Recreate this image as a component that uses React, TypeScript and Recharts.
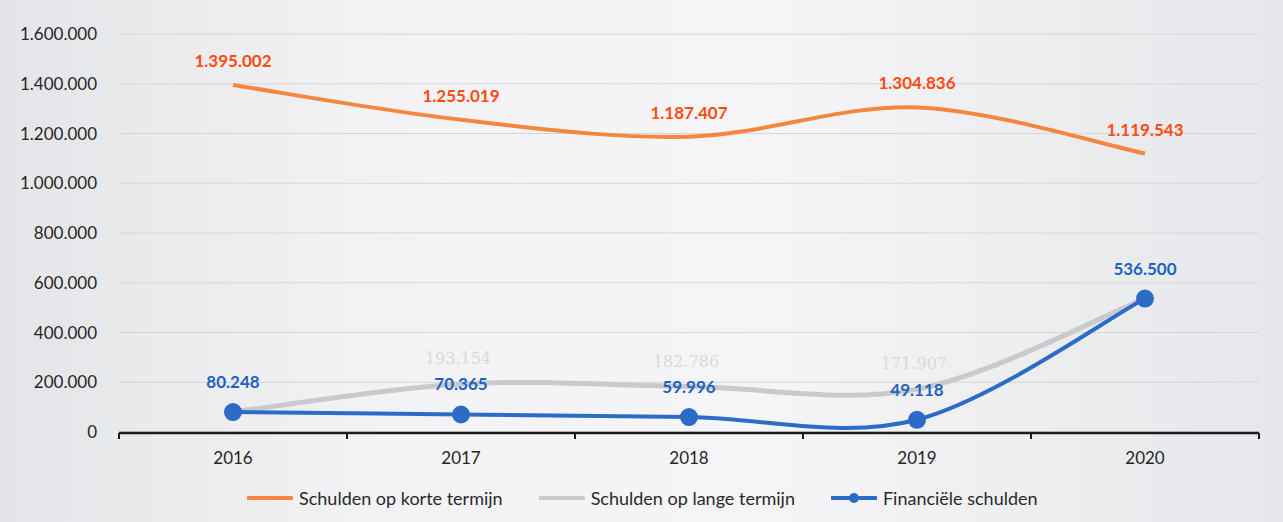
import { LineChart, Line, XAxis, YAxis, CartesianGrid, LabelList } from "recharts";

const years = ["2016", "2017", "2018", "2019", "2020"];
const korteTermijn = [1395002, 1255019, 1187407, 1304836, 1119543];
const langeTermijn = [80248, 193154, 182786, 171907, 536500];
const financieel = [80248, 70365, 59996, 49118, 536500];
const yTicks = [0, 200000, 400000, 600000, 800000, 1000000, 1200000, 1400000, 1600000];
// frame axis runs over the index range [0, n-1]; tick marks sit between the year bands
const n = years.length;
const frameTicks = Array.from({ length: n + 1 }, (_, k) => (k * (n - 1)) / n);

const data = years.map((year, i) => ({
  year,
  korte: korteTermijn[i],
  lange: langeTermijn[i],
  fin: financieel[i],
}));

const ORANGE = "#f3873f";
const GRAY = "#c9cacc";
const BLUE = "#2c6cc6";
const FONT = "Lato, 'Open Sans', sans-serif";

const fmt = (v: number) => String(v).replace(/\B(?=(\d{3})+(?!\d))/g, ".");

// Catmull-Rom style smoothing, closer to the spreadsheet "smoothed line"
function smoothCurve(context: any) {
  let pts: [number, number][] = [];
  const draw = () => {
    if (!pts.length) return;
    context.moveTo(pts[0][0], pts[0][1]);
    for (let i = 0; i < pts.length - 1; i++) {
      const p0 = pts[i - 1] || pts[i];
      const p1 = pts[i];
      const p2 = pts[i + 1];
      const p3 = pts[i + 2] || p2;
      context.bezierCurveTo(
        p1[0] + (p2[0] - p0[0]) / 6,
        p1[1] + (p2[1] - p0[1]) / 6,
        p2[0] - (p3[0] - p1[0]) / 6,
        p2[1] - (p3[1] - p1[1]) / 6,
        p2[0],
        p2[1]
      );
    }
  };
  return {
    areaStart() {},
    areaEnd() {},
    lineStart() {
      pts = [];
    },
    lineEnd() {
      draw();
      pts = [];
    },
    point(x: number, y: number) {
      pts.push([+x, +y]);
    },
  };
}

const legendItems = [
  { name: "Schulden op korte termijn", color: ORANGE, dot: false },
  { name: "Schulden op lange termijn", color: GRAY, dot: false },
  { name: "Financiële schulden", color: BLUE, dot: true },
];

function GrayLabel(props: any) {
  const { x, y, value, index } = props;
  if (index === 0 || index === years.length - 1) return null;
  return (
    <text x={x - 3} y={y - 20} textAnchor="middle" fill="#d9dadc" fontSize={16} fontFamily="'DejaVu Serif', serif">
      {fmt(value)}
    </text>
  );
}

export default function App() {
  return (
    <div
      style={{
        position: "absolute",
        left: 0,
        top: 0,
        width: 1283,
        height: 522,
        background: "linear-gradient(90deg, #e4e5e8 0%, #f3f3f5 30%, #f5f5f7 60%, #e6e7ea 100%)",
        fontFamily: FONT,
      }}
    >
      <LineChart
        width={1283}
        height={522}
        data={data}
        margin={{ top: 34, right: 24, bottom: 88, left: 0 }}
      >
        <CartesianGrid vertical={false} stroke="#d5d6d9" strokeWidth={1} />
        <XAxis
          xAxisId="frame"
          type="number"
          domain={[0, n - 1]}
          allowDataOverflow
          ticks={frameTicks}
          interval={0}
          height={1}
          tickFormatter={() => ""}
          tick={{ fontSize: 1 }}
          tickSize={6}
          axisLine={{ stroke: "#1c1c1c", strokeWidth: 2.5 }}
          tickLine={{ stroke: "#1c1c1c", strokeWidth: 2 }}
        />
        <XAxis
          dataKey="year"
          height={1}
          padding={{ left: 114, right: 114 }}
          axisLine={false}
          tickLine={false}
          tickSize={6}
          tickMargin={14}
          tick={{ fill: "#262626", fontSize: 17, fontFamily: FONT }}
        />
        <YAxis
          width={119}
          domain={[0, 1600000]}
          ticks={yTicks}
          tickFormatter={fmt}
          axisLine={false}
          tickLine={false}
          tickSize={6}
          tickMargin={16}
          tick={{ fill: "#262626", fontSize: 17, fontFamily: FONT }}
        />
        <Line
          type={smoothCurve as any}
          dataKey="korte"
          stroke={ORANGE}
          strokeWidth={4}
          dot={false}
          isAnimationActive={false}
        >
          <LabelList
            dataKey="korte"
            position="top"
            offset={18}
            formatter={(v: any) => fmt(v)}
            fill="#ff4a12"
            fontSize={17}
            fontWeight="bold"
            fontFamily={FONT}
          />
        </Line>
        <Line
          type={smoothCurve as any}
          dataKey="lange"
          stroke={GRAY}
          strokeWidth={5}
          dot={false}
          isAnimationActive={false}
        >
          <LabelList dataKey="lange" content={GrayLabel} />
        </Line>
        <Line
          type={smoothCurve as any}
          dataKey="fin"
          stroke={BLUE}
          strokeWidth={4}
          dot={{ r: 8, fill: BLUE, stroke: BLUE, strokeWidth: 2 }}
          isAnimationActive={false}
        >
          <LabelList
            dataKey="fin"
            position="top"
            offset={24}
            formatter={(v: any) => fmt(v)}
            fill="#1f62c2"
            fontSize={17}
            fontWeight="bold"
            fontFamily={FONT}
          />
        </Line>
      </LineChart>
      <div
        style={{
          position: "absolute",
          left: 247,
          top: 487,
          display: "flex",
          alignItems: "center",
          fontSize: 18,
          color: "#2a2a2a",
        }}
      >
        {legendItems.map((it) => (
          <div key={it.name} style={{ display: "flex", alignItems: "center", marginRight: 36 }}>
            <svg width={46} height={16} style={{ marginRight: 6 }}>
              <line x1={1} y1={8} x2={45} y2={8} stroke={it.color} strokeWidth={4} strokeLinecap="round" />
              {it.dot && <circle cx={23} cy={8} r={5} fill={it.color} />}
            </svg>
            <span>{it.name}</span>
          </div>
        ))}
      </div>
    </div>
  );
}
